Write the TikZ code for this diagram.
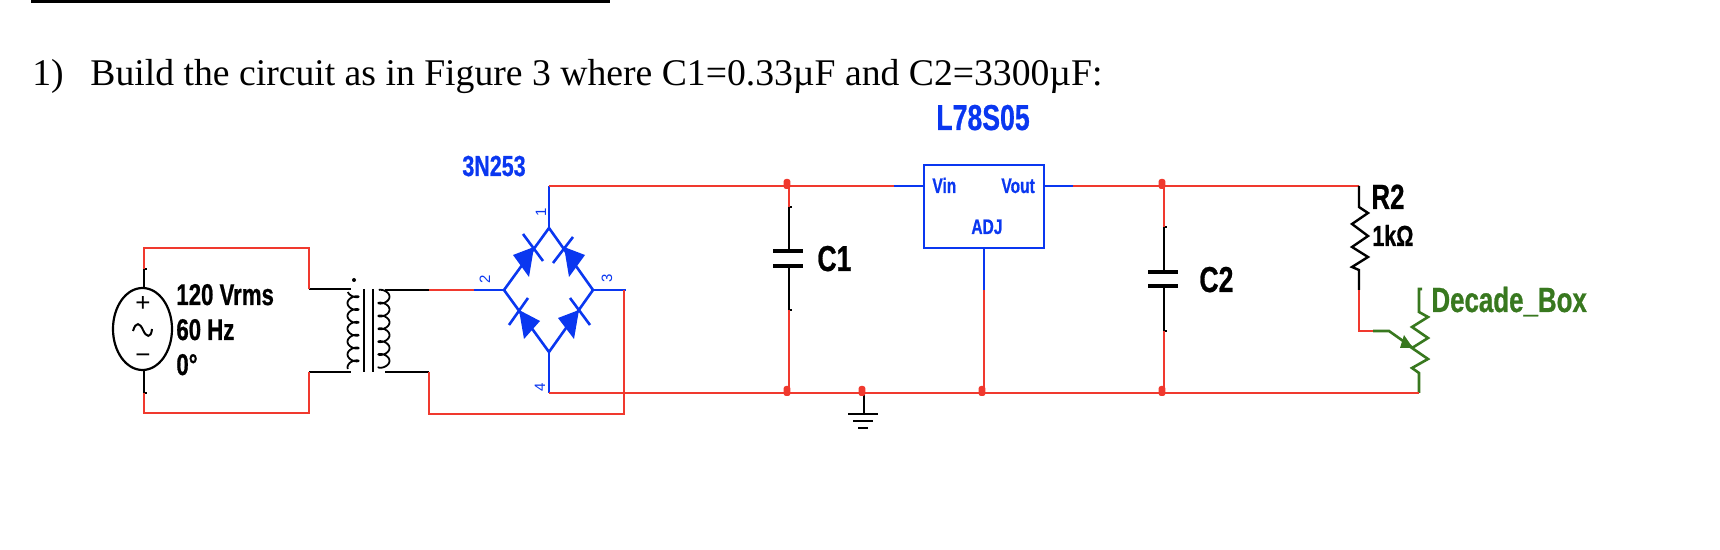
\documentclass[tikz,border=0pt]{standalone}
\usetikzlibrary{shapes.geometric}
\usepackage{fontspec}
\setmainfont{Liberation Serif}
\newfontfamily\narrowsans[FakeStretch=0.74,BoldFeatures={FakeBold=0.7}]{Liberation Sans}
\newfontfamily\plainsans{Liberation Sans}
\definecolor{wirered}{HTML}{F0392E}
\definecolor{partblue}{HTML}{0A37F0}
\definecolor{partgreen}{HTML}{38781F}
\tikzset{
  x=0.5pt,y=-0.5pt,
  wire/.style={draw=wirered,line width=1.35pt,line join=miter},
  bluewire/.style={draw=partblue,line width=1.3pt},
  greenwire/.style={draw=partgreen,line width=1.3pt,line join=miter},
  lead/.style={draw=black,line width=1.2pt},
  plate/.style={draw=black,line width=2.4pt},
  dot/.style={fill=wirered,draw=none,rounded corners=1.2pt,minimum width=3.4pt,minimum height=5pt,inner sep=0pt},
  lab/.style={inner sep=0pt,anchor=base west,font=\narrowsans\bfseries},
  pin/.style={inner sep=0pt,text=partblue,rotate=90,font=\plainsans\fontsize{7.5}{7.5}\selectfont},
  title/.style={inner sep=0pt,anchor=base west,font=\fontsize{18.84}{20}\selectfont},
}
\begin{document}
\begin{tikzpicture}
\useasboundingbox (0,0) rectangle (1720,550);
\fill[black] (31,0) rectangle (610,3.5);
\node[title] (num) at (32,86) {1)};
\node[title] (cap) at (90,86) {Build the circuit as in Figure 3 where C1=0.33µF and C2=3300µF:};

% --- source
\node[draw,ellipse,line width=1.1pt,minimum width=29.5pt,minimum height=41pt,inner sep=0pt] (src) at (142.5,329) {};
\node[inner sep=0pt,font=\plainsans\fontsize{13}{13}\selectfont] (plus) at (143,304) {+};
\node[inner sep=0pt,font=\plainsans\fontsize{13}{13}\selectfont] (minus) at (143,359) {−};
\draw[line width=1pt] (133,331) .. controls (136,321) and (140,323) .. (143,330) .. controls (146,337) and (151,339) .. (152,329);
\node[lab,font=\narrowsans\bfseries\fontsize{15}{15}\selectfont] (v) at (176,305) {120 Vrms};
\node[lab,font=\narrowsans\bfseries\fontsize{15}{15}\selectfont] (f) at (176,340) {60 Hz};
\node[lab,font=\narrowsans\bfseries\fontsize{15}{15}\selectfont] (p) at (176,375) {0°};

\coordinate (st) at (144,269);
\coordinate (sb) at (144,393);
\draw[lead] (st) -- (144,288);
\draw[lead] (144,370) -- (sb);
\draw[lead,line width=.9pt] (st) -- ++(3,0);
\draw[lead,line width=.9pt] (sb) -- ++(3,0);

% --- transformer
\coordinate (tp1) at (309,289);
\coordinate (tp2) at (309,372);
\coordinate (ts1) at (429,290);
\coordinate (ts2) at (429,372);
\draw[lead] (tp1) -- (351,289);
\draw[lead] (tp2) -- (351,372);
\draw[lead] (385,290) -- (ts1);
\draw[lead] (385,372) -- (ts2);
\fill (354,280) circle[radius=2];
\draw[line width=.9pt,smooth,samples=120,domain=0:2160,variable=\t]
  plot ({353-5.5*cos(\t+20)},{291+\t/2160*77+3*sin(\t+20)});
\draw[line width=.9pt,smooth,samples=120,domain=0:2160,variable=\t]
  plot ({384-5.5*cos(\t+20)},{291+\t/2160*77-3*sin(\t+20)});
\draw[line width=1.1pt] (364,289) -- (364,372);
\draw[line width=1.1pt] (373,289) -- (373,372);

\draw[wire] (st) -- (144,248) -- (309,248) -- (tp1);
\draw[wire] (sb) -- (144,413) -- (309,413) -- (tp2);

% --- bridge
\node[inner sep=0pt,font=\narrowsans\bfseries\fontsize{14.5}{15}\selectfont,text=partblue,anchor=base west] (bn) at (462,176) {3N253};
\coordinate (dl) at (504,290);
\coordinate (dt) at (549,228);
\coordinate (dr) at (593,290);
\coordinate (db) at (549,352);
\coordinate (p1) at (549,186);
\coordinate (p2) at (474,290);
\coordinate (p3) at (624,290);
\coordinate (p4) at (549,393);
\draw[bluewire] (dl) -- (dt) -- (dr) -- (db) -- cycle;
\draw[bluewire] (dt) -- (p1);
\draw[bluewire] (dl) -- (p2);
\draw[bluewire] (dr) -- (626,290);
\draw[bluewire] (db) -- (p4);
\fill[partblue] (513,255) -- (529,277) -- (534,247) -- cycle;
\fill[partblue] (585,255) -- (569,277) -- (564,247) -- cycle;
\fill[partblue] (519,310) -- (540,321) -- (524,339) -- cycle;
\fill[partblue] (579,310) -- (558,318) -- (574,339) -- cycle;
\draw[bluewire] (523,234) -- (543,261);
\draw[bluewire] (573,237) -- (553,263);
\draw[bluewire] (528,298) -- (509,325);
\draw[bluewire] (570,298) -- (590,325);
\node[pin] (n1) at (541,212) {1};
\node[pin] (n2) at (485,279) {2};
\node[pin] (n3) at (607,278) {3};
\node[pin] (n4) at (540,387) {4};

\draw[wire] (ts1) -- (p2);
\draw[wire] (ts2) -- (429,414) -- (624,414) -- (p3);

% --- regulator
\node[draw=partblue,line width=1.3pt,minimum width=60pt,minimum height=41.5pt,inner sep=0pt] (reg) at (984,206.5) {};
\node[inner sep=0pt,font=\narrowsans\bfseries\fontsize{18}{18}\selectfont,text=partblue,anchor=base west] (rn) at (936,130) {L78S05};
\node[inner sep=0pt,font=\narrowsans\bfseries\fontsize{10.5}{11}\selectfont,text=partblue,anchor=base west] (vin) at (932,193) {Vin};
\node[inner sep=0pt,font=\narrowsans\bfseries\fontsize{10.5}{11}\selectfont,text=partblue,anchor=base west] (vout) at (1001,193) {Vout};
\node[inner sep=0pt,font=\narrowsans\bfseries\fontsize{10.5}{11}\selectfont,text=partblue,anchor=base west] (adj) at (971,234) {ADJ};
\coordinate (rin) at (894,186);
\coordinate (rout) at (1073,186);
\coordinate (radj) at (984,290);
\draw[bluewire] (rin) -- (924,186);
\draw[bluewire] (1044,186) -- (rout);
\draw[bluewire] (984,248) -- (radj);
\draw[wire] (p1) -- (rin);
\draw[wire] (rout) -- (1359,186);

% --- C1
\coordinate (c1t) at (789,207);
\coordinate (c1b) at (789,310);
\draw[lead] (c1t) -- (789,251);
\draw[lead] (789,266) -- (c1b);
\draw[lead,line width=.9pt] (c1t) -- ++(3,0);
\draw[lead,line width=.9pt] (c1b) -- ++(3,0);
\draw[plate] (773,251) -- (803,251);
\draw[plate] (773,266) -- (803,266);
\node[lab,font=\narrowsans\bfseries\fontsize{18}{18}\selectfont] (c1) at (817,271) {C1};
\draw[wire] (789,186) -- (c1t);
\draw[wire] (c1b) -- (789,394);

% --- C2
\coordinate (c2t) at (1164,227);
\coordinate (c2b) at (1164,331);
\draw[lead] (c2t) -- (1164,272);
\draw[lead] (1164,286) -- (c2b);
\draw[lead,line width=.9pt] (c2t) -- ++(3,0);
\draw[lead,line width=.9pt] (c2b) -- ++(3,0);
\draw[plate] (1148,272) -- (1178,272);
\draw[plate] (1148,286) -- (1178,286);
\node[lab,font=\narrowsans\bfseries\fontsize{18}{18}\selectfont] (c2) at (1199,292) {C2};
\draw[wire] (1164,186) -- (c2t);
\draw[wire] (c2b) -- (1164,394);

% --- ADJ to rail
\draw[wire] (radj) -- (984,394);

% --- R2
\coordinate (r2t) at (1359,186);
\coordinate (r2b) at (1359,290);
\draw[lead,line join=miter] (r2t) -- (1359,207) -- (1368,213) -- (1352,224) -- (1368,236) -- (1352,247) -- (1368,257) -- (1352,267) -- (1359,270) -- (r2b);
\node[lab,font=\narrowsans\bfseries\fontsize{17.5}{18}\selectfont] (r2) at (1371,209) {R2};
\node[lab,font=\narrowsans\bfseries\fontsize{14.5}{15}\selectfont] (r2v) at (1372,246) {1kΩ};

% --- decade box
\coordinate (dbw) at (1373,331);
\coordinate (dbb) at (1419,393);
\draw[wire] (r2b) -- (1359,331) -- (dbw);
\draw[greenwire] (dbw) -- (1389,331) -- (1413,348);
\fill[partgreen] (1413,348) -- (1400,348) -- (1404,335) -- cycle;
\draw[greenwire] (1422,289) -- (1419,289) -- (1419,312) -- (1428,317) -- (1412,327) -- (1428,338) -- (1412,348) -- (1428,359) -- (1412,368) -- (1419,373) -- (dbb);
\node[lab,font=\narrowsans\bfseries\fontsize{17.5}{18}\selectfont,text=partgreen] (dbn) at (1431,312) {Decade\_Box};

% --- ground
\coordinate (g0) at (864,393);
\coordinate (g1) at (864,414);
\draw[lead] (g0) -- (g1);
\draw[line width=1.2pt] (848,414) -- (878,414);
\draw[line width=1.2pt] (853,421) -- (873,421);
\draw[line width=1.2pt] (858,428) -- (868,428);

% --- rail and junctions
\draw[wire] (p4) -- (dbb);
\node[dot] (j1) at (787,184) {};
\node[dot] (j2) at (1162,184) {};
\node[dot] (j3) at (787,391) {};
\node[dot] (j4) at (862,391) {};
\node[dot] (j5) at (982,391) {};
\node[dot] (j6) at (1162,391) {};
\end{tikzpicture}
\end{document}
